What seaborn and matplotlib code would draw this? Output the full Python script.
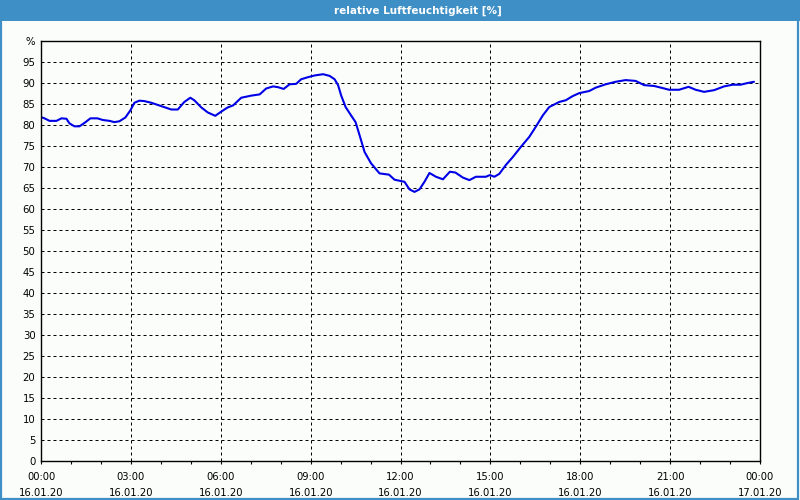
import pandas as pd
import matplotlib
matplotlib.use('Agg')
import matplotlib.pyplot as plt
import matplotlib.dates as mdates
from matplotlib.patches import Rectangle
import seaborn as sns

# relative Luftfeuchtigkeit am 16.01.2020
times = ['00:00', '00:07', '00:17', '00:31', '00:41', '00:51', '00:57', '01:07', '01:17', '01:27',
         '01:39', '01:53', '02:04', '02:17', '02:27', '02:37', '02:49', '02:59', '03:07', '03:17',
         '03:27', '03:41', '04:01', '04:21', '04:34', '04:47', '04:59', '05:07', '05:21', '05:34',
         '05:49', '06:01', '06:14', '06:25', '06:41', '07:01', '07:18', '07:31', '07:45', '07:55',
         '08:06', '08:18', '08:31', '08:41', '08:55', '09:08', '09:25', '09:38', '09:48', '09:55',
         '10:01', '10:10', '10:21', '10:30', '10:38', '10:48', '11:01', '11:18', '11:37', '11:48',
         '12:08', '12:18', '12:28', '12:38', '12:48', '12:58', '13:11', '13:25', '13:39', '13:50',
         '14:05', '14:18', '14:31', '14:51', '14:59', '15:08', '15:18', '15:31', '15:45', '16:01',
         '16:18', '16:31', '16:45', '16:58', '17:18', '17:31', '17:45', '17:58', '18:18', '18:31',
         '18:51', '19:11', '19:31', '19:51', '20:08', '20:28', '20:45', '20:58', '21:18', '21:37',
         '21:51', '22:08', '22:28', '22:48', '23:05', '23:21', '23:35', '23:48']
humidity = [81.9, 81.6, 81.0, 81.0, 81.6, 81.5, 80.4, 79.7, 79.7, 80.5,
            81.6, 81.6, 81.2, 81.0, 80.7, 80.9, 81.8, 83.5, 85.3, 85.8,
            85.7, 85.3, 84.5, 83.7, 83.7, 85.5, 86.5, 85.9, 84.2, 83.0,
            82.2, 83.2, 84.2, 84.7, 86.5, 87.0, 87.3, 88.7, 89.2, 89.0,
            88.6, 89.7, 89.8, 90.9, 91.4, 91.8, 92.1, 91.7, 90.9, 89.5,
            87.1, 84.3, 82.3, 80.7, 77.6, 73.6, 70.9, 68.5, 68.2, 67.0,
            66.5, 64.7, 64.1, 64.7, 66.5, 68.6, 67.7, 67.1, 68.9, 68.7,
            67.5, 66.9, 67.7, 67.7, 68.1, 67.7, 68.4, 70.5, 72.4, 74.8,
            77.2, 79.6, 82.3, 84.3, 85.5, 85.9, 86.9, 87.6, 88.1, 88.9,
            89.7, 90.3, 90.7, 90.5, 89.5, 89.3, 88.8, 88.4, 88.4, 89.1,
            88.4, 87.9, 88.3, 89.2, 89.6, 89.6, 90.0, 90.3]
y_ticks = list(range(0, 101, 5))
y_labels = [str(v) for v in y_ticks[:-1]] + ['%']
title = 'relative Luftfeuchtigkeit [%]'

df = pd.DataFrame({'zeit': pd.to_datetime(['2020-01-16 ' + t for t in times]),
                   'rh': humidity})

sns.set_style('white')
plt.rcParams['font.family'] = ['DejaVu Sans']

bg = '#fbfdfb'
blue_bar = '#3d8fc6'
fig = plt.figure(figsize=(8, 5), dpi=100, facecolor=bg)
ax = fig.add_axes([41 / 800, (500 - 461.3) / 500, 719 / 800, 420.3 / 500])
ax.set_facecolor(bg)

sns.lineplot(data=df, x='zeit', y='rh', ax=ax, color='#0000e6', linewidth=1.5,
             estimator=None)

ax.set_xlim(pd.Timestamp('2020-01-16 00:00'), pd.Timestamp('2020-01-17 00:00'))
ax.set_ylim(0, 100)
ax.set_yticks(y_ticks)
ax.set_yticklabels(y_labels)
ax.xaxis.set_major_locator(mdates.HourLocator(byhour=range(0, 24, 3)))
ax.xaxis.set_minor_locator(mdates.HourLocator())
ax.xaxis.set_major_formatter(mdates.DateFormatter('%H:%M\n%d.%m.%y'))
ax.set_xlabel('')
ax.set_ylabel('')

ax.grid(True, which='major', color='black', linestyle=(0, (3, 3)), linewidth=0.72)
ax.tick_params(axis='y', length=0, pad=4, labelsize=7.3, colors='black')
ax.tick_params(axis='x', which='both', length=2.5, width=0.8, direction='out',
               color='black', bottom=True)
ax.tick_params(axis='x', which='major', pad=5, labelsize=7.2, colors='black')
for lbl in ax.get_xticklabels():
    lbl.set_linespacing(1.75)
for sp in ax.spines.values():
    sp.set_color('black')
    sp.set_linewidth(1)

# Titelleiste und Rahmen
fig.patches.append(Rectangle((0, 1 - 21 / 500), 1, 21 / 500, transform=fig.transFigure,
                             facecolor=blue_bar, edgecolor='none', zorder=0))
fig.patches.append(Rectangle((0.5 / 800, 1.5 / 500), 797.5 / 800, 497 / 500,
                             transform=fig.transFigure, facecolor='none',
                             edgecolor=blue_bar, linewidth=1.6, zorder=1))
fig.text(418 / 800, 1 - 10.5 / 500, title, color='white', fontsize=7.5, fontweight='bold',
         ha='center', va='center')

fig.savefig('out.png', dpi=100, facecolor=bg)
